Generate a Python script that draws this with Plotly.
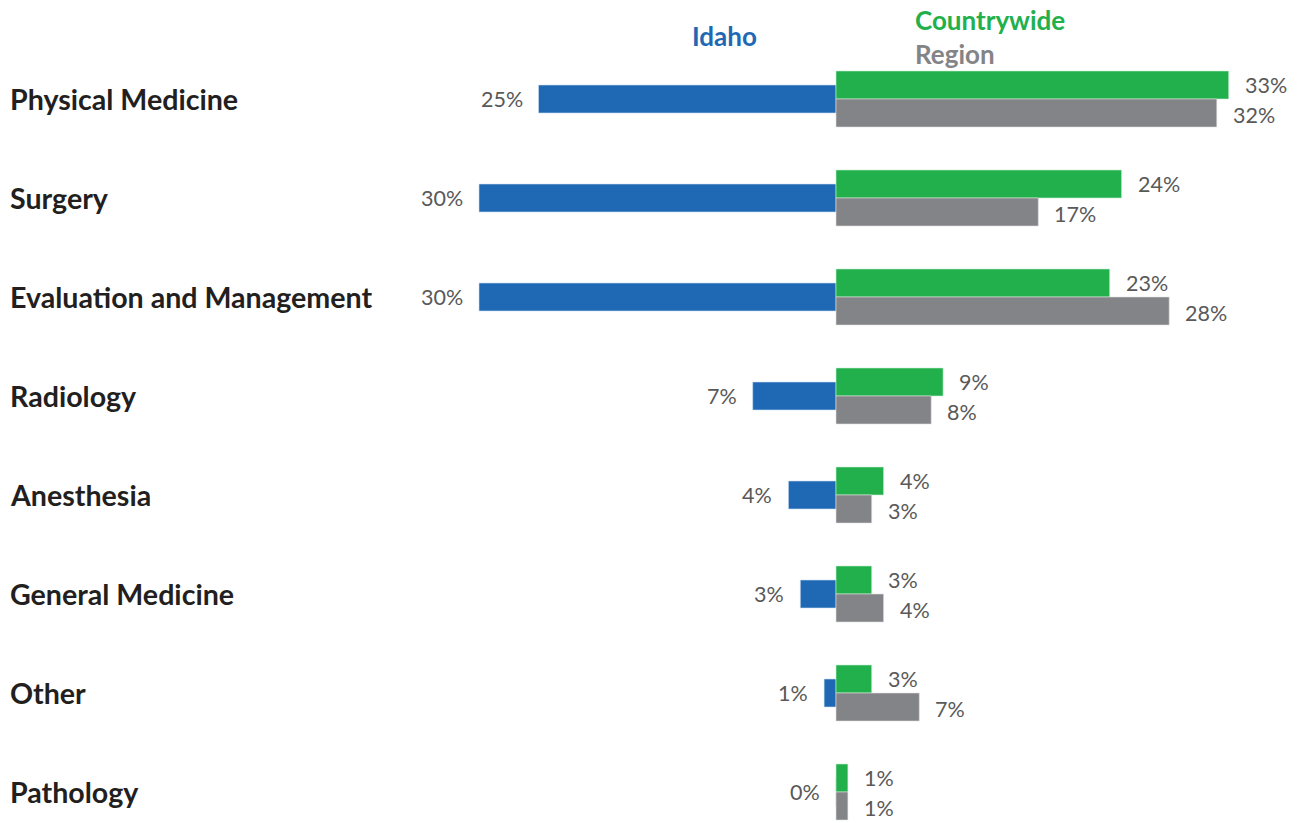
import plotly.graph_objects as go

categories = ["Physical Medicine", "Surgery", "Evaluation and Management", "Radiology",
              "Anesthesia", "General Medicine", "Other", "Pathology"]
idaho = [25, 30, 30, 7, 4, 3, 1, 0]
countrywide = [33, 24, 23, 9, 4, 3, 3, 1]
region = [32, 17, 28, 8, 3, 4, 7, 1]

BLUE = "#1F69B4"
GREEN = "#21B04B"
GRAY = "#838487"
TXT = "#595959"
DARK = "#231F20"
FONT = "Lato"

OFF = 8  # page body margin
W, H = 1304 - OFF, 823 - OFF
BW = 0.283  # bar thickness in category units
X0 = 836 - OFF   # pixel of zero line
Y0 = 99 - OFF    # pixel of first category centre
STEP = 99        # pixels per category
PXP = 11.9       # pixels per percent

fig = go.Figure()
fig.add_trace(go.Bar(y=categories, x=[-v for v in idaho], orientation="h", name="Idaho",
                     marker=dict(color=BLUE, line=dict(color="#cfe0f2", width=0.6)),
                     width=BW, offset=-BW / 2, hoverinfo="skip"))
fig.add_trace(go.Bar(y=categories, x=countrywide, orientation="h", name="Countrywide",
                     marker=dict(color=GREEN, line=dict(color="#cdeed6", width=0.6)),
                     width=BW, offset=-BW, hoverinfo="skip"))
fig.add_trace(go.Bar(y=categories, x=region, orientation="h", name="Region",
                     marker=dict(color=GRAY, line=dict(color="#e0e0e0", width=0.6)),
                     width=BW, offset=0, hoverinfo="skip"))

ann = []
for i, c in enumerate(categories):
    ann.append(dict(x=(8 - OFF) / W, xref="paper", y=i, yref="y", text=c, showarrow=False,
                    xanchor="left", yanchor="middle",
                    font=dict(family=FONT, size=28.6, color=DARK, weight="bold")))
    ann.append(dict(x=-idaho[i], y=i, text=f"{idaho[i]}%", showarrow=False,
                    xanchor="right", yanchor="middle", xshift=-14,
                    font=dict(family=FONT, size=21.5, color=TXT)))
    ann.append(dict(x=countrywide[i], y=i - BW / 2, text=f"{countrywide[i]}%", showarrow=False,
                    xanchor="left", yanchor="middle", xshift=14,
                    font=dict(family=FONT, size=21.5, color=TXT)))
    ann.append(dict(x=region[i], y=i + BW / 2 + 0.02, text=f"{region[i]}%", showarrow=False,
                    xanchor="left", yanchor="middle", xshift=14,
                    font=dict(family=FONT, size=21.5, color=TXT)))

ann.append(dict(x=(724 - OFF) / W, y=1 - (36 - OFF) / H, xref="paper", yref="paper", text="Idaho",
                showarrow=False, xanchor="center", yanchor="middle",
                font=dict(family=FONT, size=26, color=BLUE, weight="bold")))
ann.append(dict(x=(913 - OFF) / W, y=1 - (20 - OFF) / H, xref="paper", yref="paper", text="Countrywide",
                showarrow=False, xanchor="left", yanchor="middle",
                font=dict(family=FONT, size=26, color=GREEN, weight="bold")))
ann.append(dict(x=(913 - OFF) / W, y=1 - (54 - OFF) / H, xref="paper", yref="paper", text="Region",
                showarrow=False, xanchor="left", yanchor="middle",
                font=dict(family=FONT, size=26, color=GRAY, weight="bold")))

fig.update_layout(
    width=W, height=H, barmode="overlay", showlegend=False,
    margin=dict(l=0, r=0, t=0, b=0),
    plot_bgcolor="white", paper_bgcolor="white",
    xaxis=dict(range=[-X0 / PXP, (W - X0) / PXP], visible=False, fixedrange=True),
    yaxis=dict(range=[(H - Y0) / STEP, -Y0 / STEP], visible=False, fixedrange=True,
               type="category"),
    annotations=ann,
)
fig.write_html("out.html")
